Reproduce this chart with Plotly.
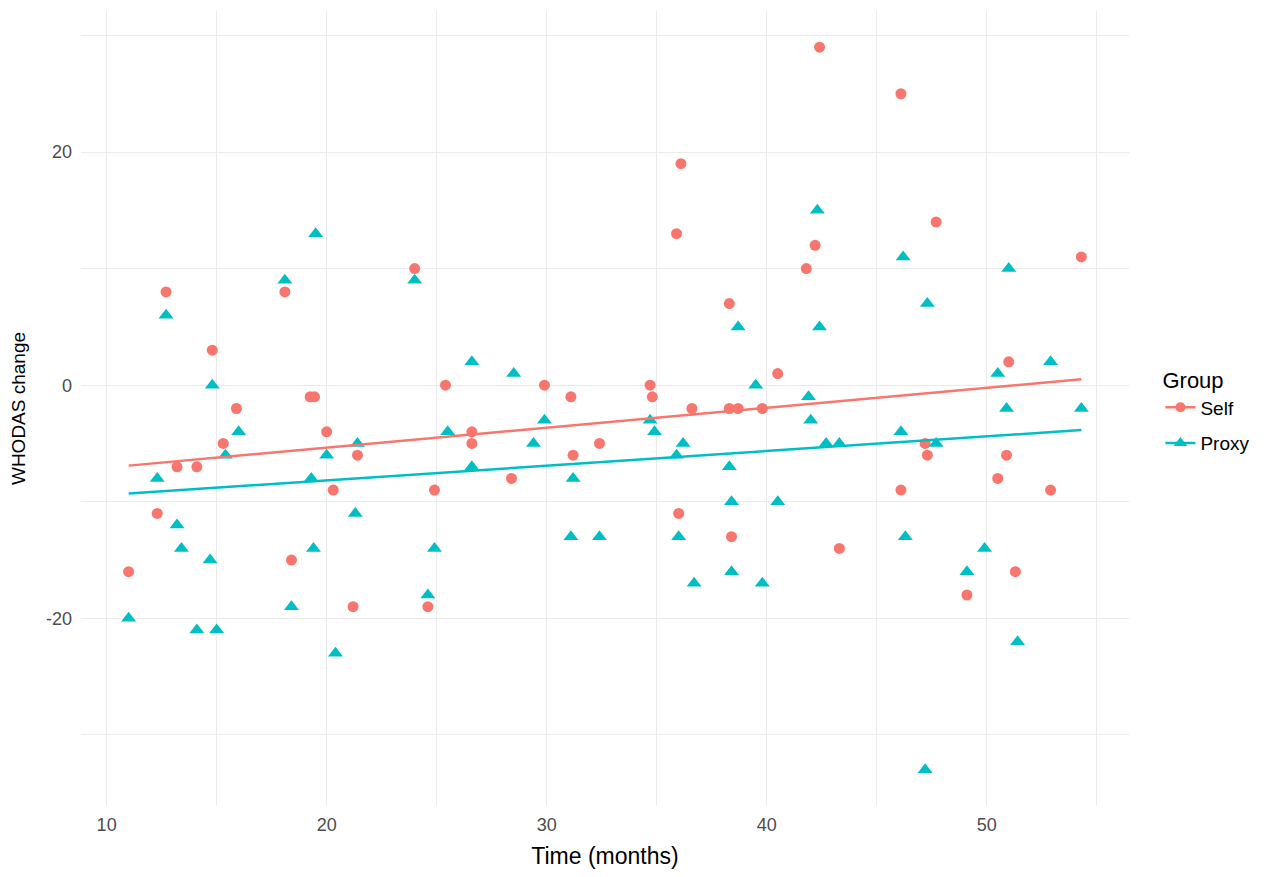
import plotly.graph_objects as go

# ---- data ----
self_time = [11.0, 12.3, 12.7, 13.2, 14.1, 14.8, 15.3, 15.9, 18.1, 18.4, 19.25, 19.45, 20.0, 20.3, 21.2, 21.4,
             24.0, 24.6, 24.9, 25.4, 26.6, 26.6, 28.4, 29.9, 31.1, 31.2, 32.4, 34.7, 34.8, 35.9, 36.1, 36.0,
             36.6, 38.3, 38.3, 38.7, 38.4, 39.8, 40.5, 41.8, 42.2, 42.4, 43.3, 46.1, 46.1, 47.2, 47.3, 47.7,
             49.1, 50.5, 50.9, 51.0, 51.3, 52.9, 54.3]
self_change = [-16, -11, 8, -7, -7, 3, -5, -2, 8, -15, -1, -1, -4, -9, -19, -6,
               10, -19, -9, 0, -4, -5, -8, 0, -1, -6, -5, 0, -1, 13, 19, -11,
               -2, 7, -2, -2, -13, -2, 1, 10, 12, 29, -14, 25, -9, -5, -6, 14,
               -18, -8, -6, 2, -16, -9, 11]

proxy_time = [11.0, 12.3, 12.7, 13.2, 13.4, 14.1, 14.7, 14.8, 15.0, 15.4, 16.0, 18.1, 18.4, 19.3, 19.4, 19.5,
              20.0, 20.4, 21.3, 21.4, 24.0, 24.6, 24.9, 25.5, 26.6, 26.6, 28.5, 29.4, 29.9, 31.1, 31.2, 32.4,
              34.7, 34.9, 35.9, 36.0, 36.2, 36.7, 38.3, 38.4, 38.4, 38.7, 39.5, 39.8, 40.5, 41.9, 42.0, 42.3,
              42.4, 42.7, 43.3, 46.1, 46.2, 46.3, 47.2, 47.3, 47.7, 49.1, 49.9, 50.5, 50.9, 51.0, 51.4, 52.9, 54.3]
proxy_change = [-20, -8, 6, -12, -14, -21, -15, 0, -21, -6, -4, 9, -19, -8, -14, 13,
                -6, -23, -11, -5, 9, -18, -14, -4, 2, -7, 1, -5, -3, -13, -8, -13,
                -3, -4, -6, -13, -5, -17, -7, -10, -16, 5, 0, -17, -10, -1, -3, 15,
                5, -5, -5, -4, 11, -13, -33, 7, -5, -16, -14, 1, -2, 10, -22, 2, -2]

# fitted (lm) lines, endpoints
fit_time = [11.0, 54.3]
self_fit = [-6.9, 0.5]
proxy_fit = [-9.3, -3.85]

x_ticks = [10, 20, 30, 40, 50]
x_tick_text = ["10", "20", "30", "40", "50"]
x_minor = [15, 25, 35, 45, 55]
y_ticks = [-20, 0, 20]
y_tick_text = ["-20", "0", "20"]
y_minor = [-30, -10, 10, 30]

SELF_COL = "#F8766D"
PROXY_COL = "#00BFC4"
FONT = "Liberation Sans, Arial, sans-serif"

fig = go.Figure()

fig.add_trace(go.Scatter(x=self_time, y=self_change, mode="markers", showlegend=False,
                         marker=dict(symbol="circle", size=11, color=SELF_COL)))
fig.add_trace(go.Scatter(x=proxy_time, y=proxy_change, mode="markers", showlegend=False,
                         marker=dict(symbol="triangle-up", size=13, color=PROXY_COL)))
fig.add_trace(go.Scatter(x=fit_time, y=self_fit, mode="lines", showlegend=False,
                         line=dict(color=SELF_COL, width=2.5)))
fig.add_trace(go.Scatter(x=fit_time, y=proxy_fit, mode="lines", showlegend=False,
                         line=dict(color=PROXY_COL, width=2.5)))

# legend entries
fig.add_trace(go.Scatter(x=[None], y=[None], mode="lines+markers", name="Self", legendgroup="a",
                         marker=dict(symbol="circle", size=10, color=SELF_COL),
                         line=dict(color=SELF_COL, width=2.5)))
fig.add_trace(go.Scatter(x=[None], y=[None], mode="lines+markers", name="Proxy", legendgroup="b",
                         marker=dict(symbol="triangle-up", size=12, color=PROXY_COL),
                         line=dict(color=PROXY_COL, width=2.5)))

grid = "#EBEBEB"
# page body has an 8px margin; the figure is sized so the plot area lands where the reference panel is
fig.update_layout(
    width=1260, height=861,
    margin=dict(l=73, r=139, t=2.5, b=58.5),
    paper_bgcolor="white", plot_bgcolor="white",
    font=dict(family=FONT, color="#4D4D4D", size=17),
    legend=dict(title=dict(text="Group", font=dict(size=22, color="black")),
                font=dict(size=19, color="black"),
                x=1.03, xanchor="left", y=0.497, yanchor="middle",
                bgcolor="rgba(0,0,0,0)", tracegroupgap=8, traceorder="grouped"),
    xaxis=dict(range=[8.835, 56.465], tickvals=x_ticks, ticktext=x_tick_text,
               showline=False, zeroline=False,
               gridcolor=grid, gridwidth=1.2, ticks="", ticklabelstandoff=6,
               minor=dict(tickvals=x_minor, showgrid=True, gridcolor=grid, gridwidth=0.8),
               title=dict(text="Time (months)", font=dict(size=23, color="black")),
               tickfont=dict(size=18, color="#4D4D4D")),
    yaxis=dict(range=[-36.1, 32.1], tickvals=y_ticks, ticktext=y_tick_text,
               showline=False, zeroline=False,
               gridcolor=grid, gridwidth=1.2, ticks="", ticklabelstandoff=8,
               minor=dict(tickvals=y_minor, showgrid=True, gridcolor=grid, gridwidth=0.8),
               title=dict(text="WHODAS change", font=dict(size=19, color="black")),
               tickfont=dict(size=18, color="#4D4D4D")),
)

fig.write_html("out.html")
